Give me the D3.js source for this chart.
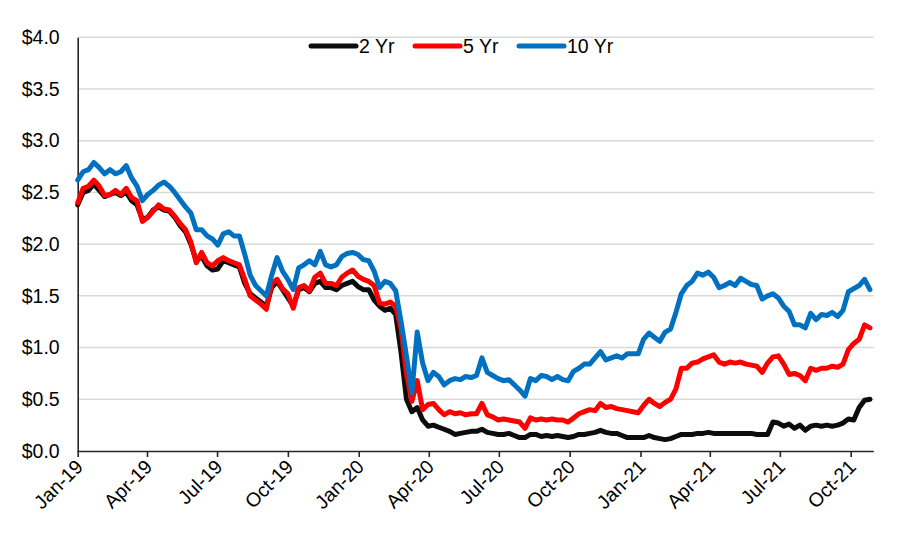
<!DOCTYPE html>
<html>
<head>
<meta charset="utf-8">
<script src="https://cdn.jsdelivr.net/npm/d3@7"></script>
<style>
  html, body { margin: 0; padding: 0; background: #fff; }
  svg text { font-family: "Liberation Sans", Arial, sans-serif; fill: #000; }
</style>
</head>
<body>
<svg id="chart" width="898" height="539"></svg>
<script>
// ---- Data (weekly samples starting 2019-01-01) ----
const startDate = "2019-01-01";
const seriesNames = ["2 Yr", "5 Yr", "10 Yr"];
const seriesColors = ["#0d0d0d", "#ff0000", "#0070c0"];

const yr2 = [2.38,2.50,2.52,2.58,2.52,2.46,2.48,2.50,2.47,2.50,2.42,2.38,2.24,2.26,2.33,2.36,2.33,2.32,2.26,2.18,
  2.12,2.00,1.84,1.88,1.79,1.75,1.76,1.84,1.82,1.80,1.78,1.62,1.52,1.48,1.44,1.40,1.58,1.64,1.56,1.48,
  1.40,1.56,1.58,1.54,1.62,1.64,1.58,1.58,1.56,1.60,1.62,1.64,1.59,1.56,1.56,1.46,1.40,1.36,1.38,1.32,
  0.95,0.50,0.38,0.42,0.30,0.24,0.25,0.23,0.21,0.19,0.16,0.17,0.18,0.19,0.19,0.21,0.18,0.17,0.16,0.16,
  0.17,0.15,0.13,0.13,0.16,0.16,0.14,0.15,0.14,0.15,0.14,0.13,0.14,0.16,0.16,0.17,0.18,0.20,0.18,0.17,
  0.17,0.15,0.13,0.13,0.13,0.13,0.15,0.13,0.12,0.11,0.12,0.14,0.16,0.16,0.16,0.17,0.17,0.18,0.17,0.17,
  0.17,0.17,0.17,0.17,0.17,0.17,0.16,0.16,0.16,0.28,0.27,0.24,0.26,0.22,0.25,0.20,0.24,0.25,0.24,0.25,
  0.24,0.25,0.27,0.31,0.30,0.42,0.49,0.50];

const yr5 = [2.40,2.54,2.56,2.62,2.56,2.47,2.48,2.52,2.48,2.54,2.45,2.42,2.22,2.26,2.32,2.38,2.34,2.33,2.27,2.20,
  2.14,2.02,1.82,1.92,1.82,1.79,1.84,1.87,1.84,1.82,1.80,1.66,1.50,1.46,1.42,1.37,1.62,1.66,1.57,1.52,
  1.38,1.58,1.60,1.55,1.68,1.72,1.62,1.62,1.60,1.68,1.72,1.75,1.69,1.66,1.64,1.60,1.43,1.42,1.44,1.40,
  1.18,0.75,0.48,0.68,0.40,0.45,0.46,0.40,0.35,0.38,0.36,0.37,0.35,0.36,0.36,0.46,0.35,0.33,0.30,0.31,
  0.30,0.29,0.28,0.22,0.32,0.30,0.31,0.30,0.31,0.30,0.30,0.28,0.32,0.36,0.38,0.40,0.39,0.46,0.42,0.43,
  0.41,0.40,0.39,0.38,0.37,0.44,0.50,0.46,0.43,0.47,0.50,0.60,0.80,0.80,0.85,0.86,0.89,0.91,0.93,0.86,
  0.84,0.86,0.85,0.86,0.84,0.83,0.82,0.76,0.85,0.91,0.92,0.84,0.74,0.75,0.73,0.68,0.80,0.78,0.80,0.80,
  0.82,0.81,0.84,0.98,1.04,1.08,1.22,1.19];

const yr10 = [2.62,2.70,2.72,2.79,2.74,2.68,2.72,2.68,2.70,2.76,2.64,2.56,2.42,2.48,2.52,2.57,2.60,2.56,2.50,2.43,
  2.36,2.30,2.14,2.14,2.08,2.05,1.99,2.10,2.12,2.08,2.08,1.90,1.70,1.60,1.55,1.50,1.70,1.87,1.74,1.66,
  1.56,1.77,1.80,1.84,1.80,1.93,1.80,1.78,1.80,1.88,1.91,1.92,1.90,1.85,1.84,1.74,1.58,1.64,1.62,1.55,
  1.25,0.92,0.56,1.15,0.85,0.68,0.76,0.72,0.64,0.68,0.70,0.69,0.72,0.71,0.73,0.90,0.76,0.73,0.70,0.68,
  0.69,0.64,0.59,0.53,0.70,0.68,0.73,0.72,0.69,0.72,0.69,0.68,0.77,0.80,0.84,0.84,0.90,0.96,0.88,0.90,
  0.92,0.90,0.94,0.94,0.94,1.08,1.14,1.10,1.06,1.15,1.18,1.34,1.52,1.60,1.64,1.72,1.70,1.73,1.68,1.58,
  1.60,1.63,1.60,1.67,1.64,1.61,1.60,1.47,1.50,1.52,1.48,1.40,1.35,1.22,1.22,1.19,1.33,1.27,1.32,1.31,
  1.34,1.30,1.36,1.54,1.57,1.60,1.66,1.56];

const xTickLabels = ["Jan-19","Apr-19","Jul-19","Oct-19","Jan-20","Apr-20","Jul-20","Oct-20","Jan-21","Apr-21","Jul-21","Oct-21"];
const yTicks = [0, 0.5, 1.0, 1.5, 2.0, 2.5, 3.0, 3.5, 4.0];

// ---- Build ----
const parseTick = d3.timeParse("%b-%y");
const t0 = d3.timeParse("%Y-%m-%d")(startDate);
const dates = yr2.map((_, i) => d3.timeDay.offset(t0, 7 * i));
const series = [yr2, yr5, yr10].map((vals, k) => ({
  name: seriesNames[k], color: seriesColors[k],
  points: vals.map((v, i) => ({ date: dates[i], value: v }))
}));

const svg = d3.select("#chart");
const plotLeft = 77.7, plotRight = 873.8, plotTop = 37.3, plotBottom = 451;

const x = d3.scaleTime()
  .domain([t0, d3.timeParse("%Y-%m-%d")("2021-10-31")])
  .range([plotLeft, plotRight]);
const y = d3.scaleLinear().domain([0, 4]).range([plotBottom, plotTop]);

// gridlines
svg.append("g")
  .selectAll("line")
  .data(yTicks.filter(d => d > 0))
  .join("line")
  .attr("x1", plotLeft).attr("x2", plotRight)
  .attr("y1", d => y(d)).attr("y2", d => y(d))
  .attr("stroke", "#d9d9d9").attr("stroke-width", 1.5);

// y axis
const yAxis = d3.axisLeft(y).tickValues(yTicks).tickSize(0).tickPadding(18)
  .tickFormat(d => "$" + d.toFixed(1));
const gy = svg.append("g").attr("transform", `translate(${plotLeft},0)`).call(yAxis);
gy.select(".domain").attr("stroke", "#262626").attr("stroke-width", 1.6);
gy.selectAll("text").attr("font-size", "19.5px").attr("fill", "#000");

// lines
const line = d3.line().x(d => x(d.date)).y(d => y(d.value)).curve(d3.curveLinear);
svg.append("g").selectAll("path")
  .data(series)
  .join("path")
  .attr("d", d => line(d.points))
  .attr("fill", "none")
  .attr("stroke", d => d.color)
  .attr("stroke-width", 5)
  .attr("stroke-linejoin", "round")
  .attr("stroke-linecap", "round");

// x axis
const xAxis = d3.axisBottom(x)
  .tickValues(xTickLabels.map(parseTick))
  .tickSize(6)
  .tickFormat(d3.timeFormat("%b-%y"));
const gx = svg.append("g").attr("transform", `translate(0,${plotBottom})`).call(xAxis);
gx.select(".domain").attr("stroke", "#262626").attr("stroke-width", 1.6)
  .attr("d", `M${plotLeft},0.5H${plotRight}`);
gx.selectAll(".tick line").attr("stroke", "#262626").attr("stroke-width", 1.6);
gx.selectAll("text")
  .attr("font-size", "19.5px")
  .attr("fill", "#000")
  .attr("text-anchor", "end")
  .attr("dy", "0")
  .attr("transform", "translate(6,17) rotate(-45)")
  .attr("y", 0).attr("x", 0);

// legend
const legendX = [311, 415, 519];
const lg = svg.append("g");
series.forEach((s, k) => {
  const g = lg.append("g").attr("transform", `translate(${legendX[k]},46)`);
  g.append("line").attr("x1", 0).attr("x2", 45).attr("y1", 0).attr("y2", 0)
    .attr("stroke", s.color).attr("stroke-width", 5).attr("stroke-linecap", "round");
  g.append("text").attr("x", 48).attr("y", 7).attr("font-size", "19.5px").text(s.name);
});
</script>
</body>
</html>
